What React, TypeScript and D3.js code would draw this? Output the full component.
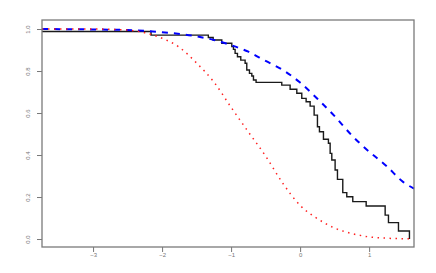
import React, { useRef, useEffect } from 'react';
import {
  select,
  scaleLinear,
  axisBottom,
  axisLeft,
  line,
  curveStepAfter,
  curveMonotoneX,
} from 'd3';

const dims = {
  width: 436,
  height: 273,
  left: 42,
  right: 414,
  top: 20,
  bottom: 247,
};

// step curve (empirical), value holds from each x to the next
const stepX = [
  -3.74, -2.16, -1.33, -1.26, -1.135, -0.99, -0.966, -0.942, -0.908, -0.86,
  -0.797, -0.773, -0.734, -0.7, -0.676, -0.638, -0.266, -0.145, -0.048, 0.024,
  0.087, 0.145, 0.203, 0.251, 0.28, 0.338, 0.41, 0.435, 0.459, 0.507, 0.541,
  0.618, 0.676, 0.763, 0.957, 1.232, 1.28, 1.425, 1.584,
];
const stepY = [
  0.988, 0.971, 0.96, 0.948, 0.932, 0.916, 0.903, 0.884, 0.868, 0.852, 0.837,
  0.805, 0.789, 0.776, 0.757, 0.746, 0.733, 0.713, 0.694, 0.67, 0.654, 0.633,
  0.59, 0.535, 0.511, 0.475, 0.456, 0.408, 0.376, 0.329, 0.284, 0.221, 0.201,
  0.178, 0.157, 0.114, 0.078, 0.038, 0.0,
];

// blue dashed curve
const blueX = [
  -3.74, -3, -2.5, -2, -1.5, -1.25, -1, -0.75, -0.5, -0.25, 0, 0.25, 0.5, 0.75,
  1, 1.25, 1.5, 1.65,
];
const blueY = [
  1.0, 0.998, 0.995, 0.985, 0.965, 0.948, 0.923, 0.892, 0.848, 0.805, 0.745,
  0.668, 0.585, 0.493, 0.416, 0.348, 0.27, 0.24,
];

// red dotted curve
const redX = [
  -3.74, -3, -2.5, -2.25, -2, -1.75, -1.5, -1.25, -1, -0.75, -0.5, -0.25, 0,
  0.25, 0.5, 0.75, 1, 1.25, 1.59,
];
const redY = [
  1.0, 1.0, 0.995, 0.982, 0.956, 0.913, 0.838, 0.748, 0.627, 0.51, 0.395,
  0.265, 0.16, 0.097, 0.052, 0.026, 0.01, 0.004, 0.001,
];

const xTicks = [-3, -2, -1, 0, 1];
const yTicks = [0, 0.2, 0.4, 0.6, 0.8, 1.0];

const App = () => {
  const svgRef = useRef(null);

  useEffect(() => {
    const svg = select(svgRef.current);
    svg.selectAll('*').remove();

    const xScale = scaleLinear()
      .domain([-3.74, 1.65])
      .range([dims.left, dims.right]);
    const yScale = scaleLinear()
      .domain([-0.038, 1.043])
      .range([dims.bottom, dims.top]);

    const toPts = (xs: number[], ys: number[]) =>
      xs.map((x, i) => [x, ys[i]] as [number, number]);

    const smooth = line<[number, number]>()
      .x((d) => xScale(d[0]))
      .y((d) => yScale(d[1]))
      .curve(curveMonotoneX);

    const step = line<[number, number]>()
      .x((d) => xScale(d[0]))
      .y((d) => yScale(d[1]))
      .curve(curveStepAfter);

    const lines = svg.append('g');
    lines
      .append('path')
      .attr('d', step(toPts(stepX, stepY)))
      .attr('fill', 'none')
      .attr('stroke', '#1a1a1a')
      .attr('stroke-width', 1.4);
    lines
      .append('path')
      .attr('d', smooth(toPts(blueX, blueY)))
      .attr('fill', 'none')
      .attr('stroke', '#0000ff')
      .attr('stroke-width', 2)
      .attr('stroke-dasharray', '6,6');
    lines
      .append('path')
      .attr('d', smooth(toPts(redX, redY)))
      .attr('fill', 'none')
      .attr('stroke', '#ff2020')
      .attr('stroke-width', 1.5)
      .attr('stroke-dasharray', '1.5,4.5');

    const font = '"Liberation Sans", Arial, sans-serif';

    const xAxisGroup = svg.append('g');
    xAxisGroup
      .attr('transform', `translate(0,${dims.bottom})`)
      .call(
        axisBottom(xScale)
          .tickValues(xTicks)
          .tickSize(5)
          .tickSizeOuter(0)
          .tickFormat((d) => String(d).replace('-', '\u2212'))
      );
    xAxisGroup.select('.domain').remove();
    xAxisGroup.selectAll('line').attr('stroke', '#777');
    xAxisGroup
      .selectAll('text')
      .attr('y', 6)
      .attr('fill', '#777')
      .style('font-family', font)
      .style('font-size', '6px');

    const yAxisGroup = svg.append('g');
    yAxisGroup
      .attr('transform', `translate(${dims.left},0)`)
      .call(
        axisLeft(yScale)
          .tickValues(yTicks)
          .tickSize(5)
          .tickSizeOuter(0)
          .tickFormat((d) => Number(d).toFixed(1))
      );
    yAxisGroup.select('.domain').remove();
    yAxisGroup.selectAll('line').attr('stroke', '#777');
    yAxisGroup
      .selectAll('text')
      .attr('transform', 'rotate(-90)')
      .attr('x', 0)
      .attr('y', -12)
      .attr('dy', 0)
      .attr('fill', '#777')
      .style('text-anchor', 'middle')
      .style('font-family', font)
      .style('font-size', '6px');

    svg
      .append('rect')
      .attr('x', dims.left)
      .attr('y', dims.top)
      .attr('width', dims.right - dims.left)
      .attr('height', dims.bottom - dims.top)
      .attr('fill', 'none')
      .attr('stroke', '#7a7a7a')
      .attr('stroke-width', 1.3);
  }, []);

  return (
    <svg
      ref={svgRef}
      width={dims.width}
      height={dims.height}
      style={{ position: 'absolute', left: 0, top: 0, background: '#fff' }}
    ></svg>
  );
};

export default App;
